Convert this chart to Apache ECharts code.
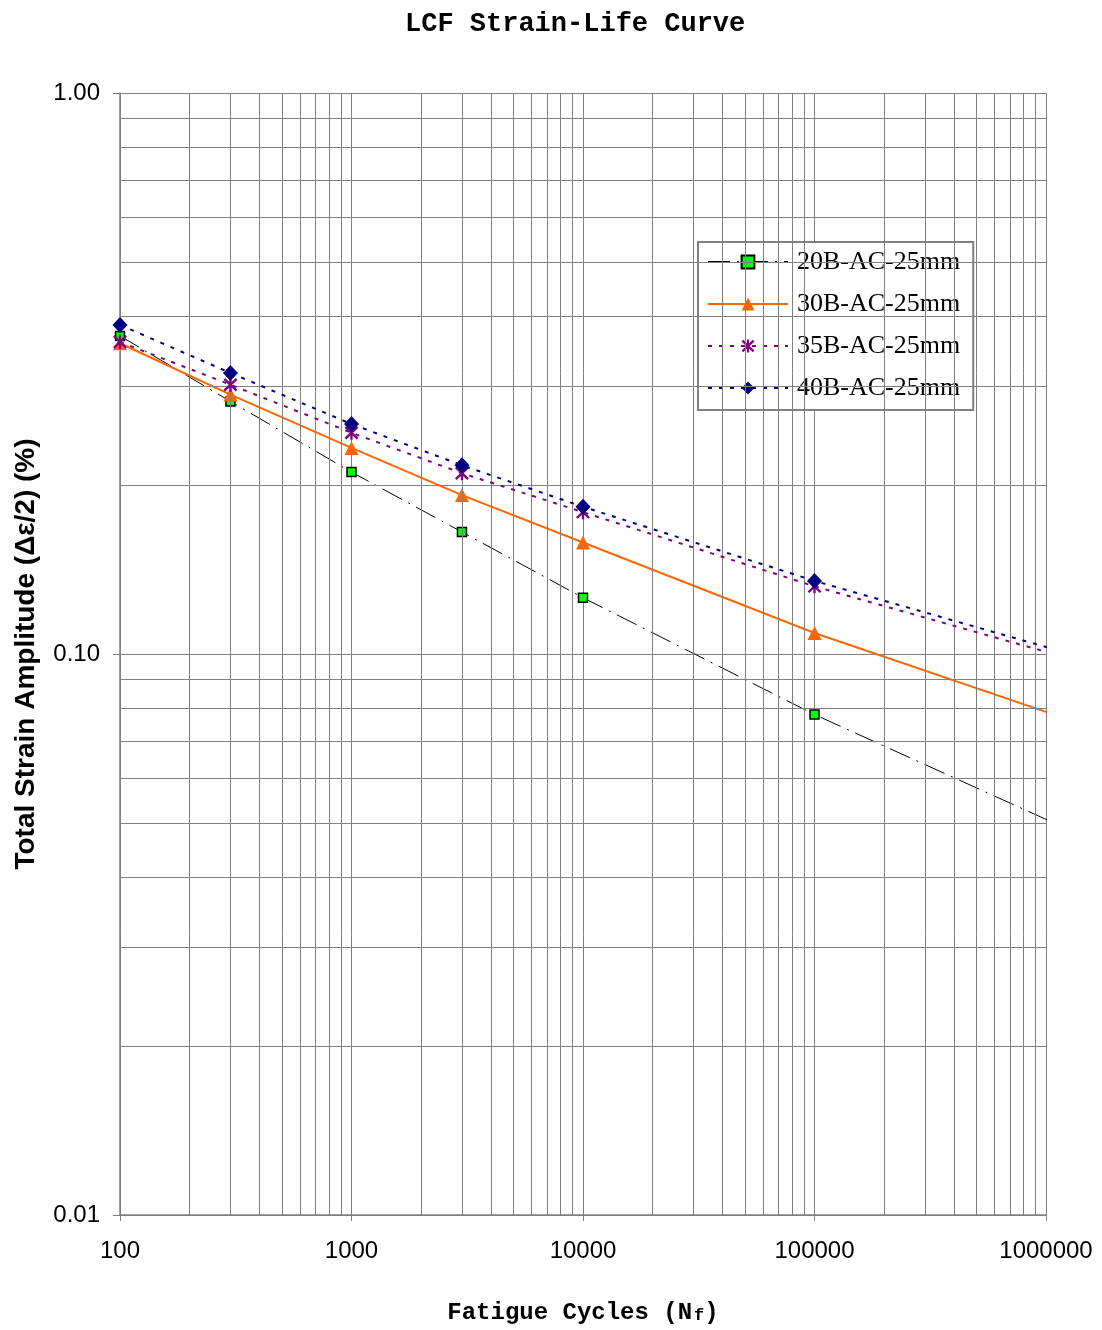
<!DOCTYPE html>
<html>
<head>
<meta charset="utf-8">
<title>LCF Strain-Life Curve</title>
<script src="https://cdn.jsdelivr.net/npm/echarts@6/dist/echarts.min.js"></script>
<style>
  html, body { margin: 0; padding: 0; background: #fff; }
  #chart { width: 1102px; height: 1330px; }
</style>
</head>
<body>
<div id="chart"></div>
<script>
// cycles where the test points sit
var cycles = [100, 300, 1000, 3000, 10000, 100000]
// where the fitted lines end (just past the last gridline)
var endCycle = 1080000

// strain amplitude (%) per material, at the cycles above
var s20B = [0.369, 0.282, 0.211, 0.165, 0.126, 0.078]
var s30B = [0.358, 0.290, 0.233, 0.192, 0.158, 0.109]
var s35B = [0.360, 0.302, 0.248, 0.210, 0.179, 0.132]
var s40B = [0.386, 0.317, 0.257, 0.217, 0.183, 0.135]
// value of each line at endCycle
var end20B = 0.050
var end30B = 0.078
var end35B = 0.100
var end40B = 0.102

var names = ['20B-AC-25mm', '30B-AC-25mm', '35B-AC-25mm', '40B-AC-25mm']

// log paper gridlines
var xDecades = [100, 1000, 10000, 100000]
var yDecades = [0.01, 0.1]
var minorSteps = [2, 3, 4, 5, 6, 7, 8, 9]

function minorLines(decades, key) {
  var out = []
  decades.forEach(function (d) {
    minorSteps.forEach(function (m) {
      var o = {}
      o[key] = +(d * m).toPrecision(6)
      out.push(o)
    })
  })
  return out
}

function buildData(vals, endVal) {
  var d = cycles.map(function (c, i) { return [c, vals[i]] })
  d.push({ value: [endCycle, endVal], symbol: 'none' })
  return d
}

// asterisk marker: X plus a vertical bar
var asterisk = 'path://M42 0L58 0L58 100L42 100Z M2 14L14 2L98 86L86 98Z M86 2L98 14L14 98L2 86Z'

var chart = echarts.init(document.getElementById('chart'))

var gridColor = '#808080'
var labelFont = 'Liberation Sans'

chart.setOption({
  animation: false,
  backgroundColor: '#fff',
  title: {
    text: 'LCF Strain-Life Curve',
    left: 400,
    top: 6,
    textStyle: {
      fontFamily: 'Liberation Mono',
      fontWeight: 'bold',
      fontSize: 27,
      color: '#000'
    }
  },
  legend: {
    data: names,
    orient: 'vertical',
    left: 698,
    top: 242,
    padding: [7, 13, 9, 9],
    itemWidth: 80,
    itemHeight: 16,
    itemGap: 16,
    backgroundColor: '#fff',
    borderColor: '#808080',
    borderWidth: 2,
    borderRadius: 0,
    textStyle: {
      fontFamily: 'Liberation Serif',
      fontSize: 26,
      color: '#000',
      padding: [0, 0, 0, 4]
    }
  },
  grid: {
    left: 120,
    right: 56,
    top: 93,
    bottom: 115,
    outerBoundsMode: 'none'
  },
  xAxis: {
    type: 'log',
    logBase: 10,
    min: 100,
    max: 1000000,
    name: '{a|Fatigue Cycles (N}{s|f}{a|)}',
    nameLocation: 'middle',
    nameGap: 86,
    nameTextStyle: {
      rich: {
        a: { fontFamily: 'Liberation Mono', fontWeight: 'bold', fontSize: 24, color: '#000' },
        s: { fontFamily: 'Liberation Mono', fontWeight: 'bold', fontSize: 17, color: '#000', padding: [6, 0, 0, 2] }
      }
    },
    axisLine: { lineStyle: { color: gridColor, width: 1.5 } },
    axisTick: { show: true, length: 6, lineStyle: { color: gridColor } },
    axisLabel: {
      margin: 24,
      fontFamily: labelFont,
      fontSize: 24,
      color: '#000',
      formatter: function (v) { return String(Math.round(v)) }
    },
    splitLine: { show: true, lineStyle: { color: gridColor, width: 1 } }
  },
  yAxis: {
    type: 'log',
    logBase: 10,
    min: 0.01,
    max: 1,
    name: 'Total Strain Amplitude (Δε/2) (%)',
    nameLocation: 'middle',
    nameGap: 80,
    nameTextStyle: {
      fontFamily: 'Liberation Sans',
      fontWeight: 'bold',
      fontSize: 28,
      color: '#000'
    },
    axisLine: { show: true, lineStyle: { color: gridColor, width: 1.5 } },
    axisTick: { show: true, length: 7, lineStyle: { color: gridColor } },
    axisLabel: {
      margin: 20,
      fontFamily: labelFont,
      fontSize: 24,
      color: '#000',
      formatter: function (v) { return v.toFixed(2) }
    },
    splitLine: { show: true, lineStyle: { color: gridColor, width: 1 } }
  },
  series: [
    {
      // minor gridlines only
      name: 'grid',
      type: 'line',
      data: [],
      z: 1,
      silent: true,
      markLine: {
        silent: true,
        symbol: ['none', 'none'],
        label: { show: false },
        lineStyle: { color: gridColor, width: 1, type: 'solid' },
        emphasis: { disabled: true },
        data: minorLines(xDecades, 'xAxis').concat(minorLines(yDecades, 'yAxis'))
      }
    },
    {
      name: names[0],
      type: 'line',
      z: 3,
      clip: false,
      data: buildData(s20B, end20B),
      symbol: 'rect',
      symbolSize: 9,
      itemStyle: { color: '#00ff00', borderColor: '#000', borderWidth: 1.5 },
      lineStyle: { color: '#000', width: 1, type: [22, 7, 2, 7] }
    },
    {
      name: names[1],
      type: 'line',
      z: 4,
      clip: false,
      data: buildData(s30B, end30B),
      symbol: 'triangle',
      symbolSize: 14,
      itemStyle: { color: '#ff6600', borderWidth: 0 },
      lineStyle: { color: '#ff6600', width: 2 }
    },
    {
      name: names[2],
      type: 'line',
      z: 5,
      clip: false,
      data: buildData(s35B, end35B),
      symbol: asterisk,
      symbolSize: 14,
      itemStyle: { color: '#800080', borderWidth: 0 },
      lineStyle: { color: '#800080', width: 2, type: [4, 7] }
    },
    {
      name: names[3],
      type: 'line',
      z: 6,
      clip: false,
      data: buildData(s40B, end40B),
      symbol: 'diamond',
      symbolSize: [15, 16],
      itemStyle: { color: '#000080', borderWidth: 0 },
      lineStyle: { color: '#000080', width: 2, type: [4, 7] }
    }
  ]
})
</script>
</body>
</html>
